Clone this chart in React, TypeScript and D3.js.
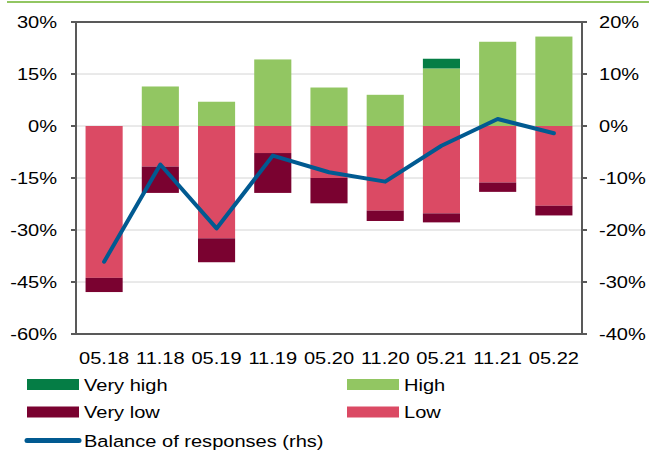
import React from "react";
import * as d3 from "d3";

const categories = ["05.18", "11.18", "05.19", "11.19", "05.20", "11.20", "05.21", "11.21", "05.22"];
const veryHigh = [0, 0, 0, 0, 0, 0, 2.8, 0, 0];
const high = [0, 11.4, 7.0, 19.2, 11.1, 9.0, 16.6, 24.3, 25.8];
const low = [-43.8, -11.7, -32.4, -7.8, -15.0, -24.4, -25.2, -16.3, -23.0];
const veryLow = [-4.1, -7.6, -6.9, -11.5, -7.3, -3.0, -2.6, -2.7, -2.8];
const balance = [-26.1, -7.4, -19.7, -5.7, -8.9, -10.7, -3.8, 1.35, -1.4];
const leftTicks = [30, 15, 0, -15, -30, -45, -60];
const rightTicks = [20, 10, 0, -10, -20, -30, -40];

const colors = {
  veryHigh: "#057d45",
  high: "#92c662",
  low: "#db4a64",
  veryLow: "#7a0230",
  line: "#015a91",
};

const W = 649;
const H = 453;
const m = { left: 76, right: 582, top: 22, bottom: 334 };
const font = "'Liberation Sans', Arial, sans-serif";
const stretch = 1.18; // text in the source is a bit wider than plain Arial

function T({ x, y, anchor = "start", children }: { x: number; y: number; anchor?: string; children: React.ReactNode }) {
  return (
    <text transform={`translate(${x},${y}) scale(${stretch},1)`} textAnchor={anchor} fontSize={17} fill="#000">
      {children}
    </text>
  );
}

export default function App() {
  const x = d3.scaleBand().domain(categories).range([m.left, m.right]).paddingInner(0.34).paddingOuter(0.17);
  const yL = d3.scaleLinear().domain([-60, 30]).range([m.bottom, m.top]);
  const yR = d3.scaleLinear().domain([-40, 20]).range([m.bottom, m.top]);
  const bw = x.bandwidth();

  const line = d3
    .line<number>()
    .x((_, i) => (x(categories[i]) as number) + bw / 2)
    .y((d) => yR(d));

  const legend = [
    { label: "Very high", color: colors.veryHigh, x: 27, y: 384.5, kind: "bar" },
    { label: "High", color: colors.high, x: 347, y: 384.5, kind: "bar" },
    { label: "Very low", color: colors.veryLow, x: 27, y: 412, kind: "bar" },
    { label: "Low", color: colors.low, x: 347, y: 412, kind: "bar" },
    { label: "Balance of responses (rhs)", color: colors.line, x: 27, y: 440.5, kind: "line" },
  ];

  return (
    <svg width={W} height={H} style={{ position: "absolute", left: 0, top: 0, background: "#fff" }} fontFamily={font}>
      <line x1={7} x2={W} y1={2} y2={2} stroke="#92c662" strokeWidth={2} />

      {/* gridlines */}
      {leftTicks.map((t) => (
        <line key={t} x1={m.left} x2={m.right} y1={yL(t)} y2={yL(t)} stroke="#d4d4d4" strokeWidth={1} />
      ))}

      {/* bars */}
      {categories.map((c, i) => {
        const bx = x(c) as number;
        return (
          <g key={c}>
            <rect x={bx} width={bw} y={yL(high[i])} height={yL(0) - yL(high[i])} fill={colors.high} />
            <rect
              x={bx}
              width={bw}
              y={yL(high[i] + veryHigh[i])}
              height={yL(high[i]) - yL(high[i] + veryHigh[i])}
              fill={colors.veryHigh}
            />
            <rect x={bx} width={bw} y={yL(0)} height={yL(low[i]) - yL(0)} fill={colors.low} />
            <rect
              x={bx}
              width={bw}
              y={yL(low[i])}
              height={yL(low[i] + veryLow[i]) - yL(low[i])}
              fill={colors.veryLow}
            />
          </g>
        );
      })}

      <path d={line(balance) || ""} fill="none" stroke={colors.line} strokeWidth={4} strokeLinejoin="round" strokeLinecap="round" />

      {/* frame */}
      <rect x={m.left} y={m.top} width={m.right - m.left} height={m.bottom - m.top} fill="none" stroke="#595959" strokeWidth={2} />

      {leftTicks.map((t) => (
        <g key={"l" + t}>
          <line x1={m.left - 5} x2={m.left} y1={yL(t)} y2={yL(t)} stroke="#595959" strokeWidth={2} />
          <T x={57} y={yL(t) + 6} anchor="end">
            {t + "%"}
          </T>
        </g>
      ))}
      {rightTicks.map((t) => (
        <g key={"r" + t}>
          <line x1={m.right} x2={m.right + 5} y1={yR(t)} y2={yR(t)} stroke="#595959" strokeWidth={2} />
          <T x={599} y={yR(t) + 6}>
            {t + "%"}
          </T>
        </g>
      ))}

      {categories.map((c) => (
        <T key={"x" + c} x={(x(c) as number) + bw / 2} y={364} anchor="middle">
          {c}
        </T>
      ))}

      {legend.map((l) =>
        l.kind === "bar" ? (
          <g key={l.label}>
            <rect x={l.x} y={l.y - 5.5} width={52} height={11} fill={l.color} />
            <T x={l.x + 57} y={l.y + 6}>
              {l.label}
            </T>
          </g>
        ) : (
          <g key={l.label}>
            <line x1={l.x} x2={l.x + 52} y1={l.y} y2={l.y} stroke={l.color} strokeWidth={5} strokeLinecap="round" />
            <T x={l.x + 57} y={l.y + 6}>
              {l.label}
            </T>
          </g>
        )
      )}
    </svg>
  );
}
